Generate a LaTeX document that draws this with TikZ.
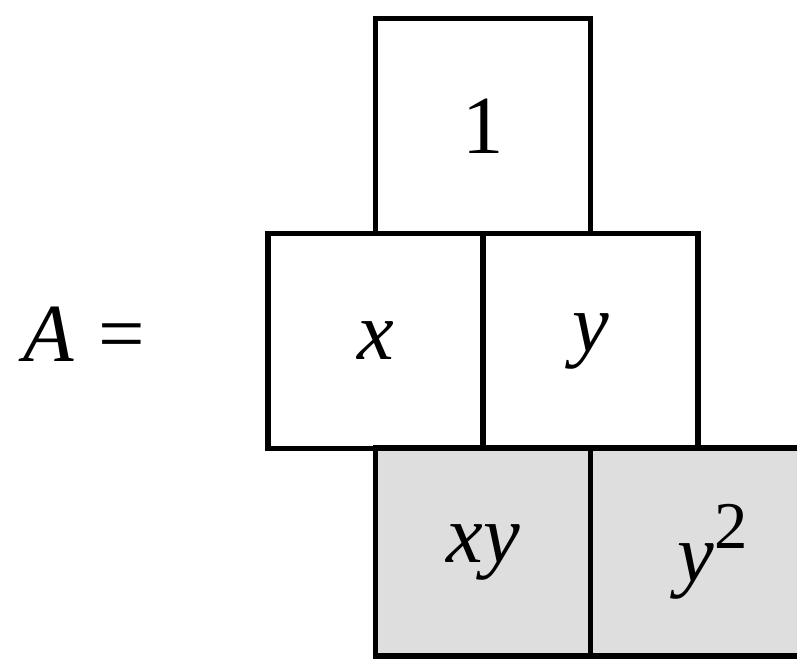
\documentclass[tikz,border=0pt]{standalone}
\usepackage{fontspec}
\setmainfont{Liberation Serif}
\usetikzlibrary{positioning}

\begin{document}
\begin{tikzpicture}[
    cell/.style={rectangle, draw=black, line width=3pt, minimum width=4.3cm, minimum height=4.3cm, inner sep=0pt, font=\fontsize{47}{50}\selectfont},
    shaded/.style={cell, fill=black!13, minimum height=4.16cm},
    lbl/.style={inner sep=0pt, font=\fontsize{47}{50}\selectfont}
]

% Page frame
\useasboundingbox (0,0) rectangle (15.94,13.2);
\clip (0,0) rectangle (15.94,13.2);

% Top row
\node[cell] at (9.66,10.68) (one) {1};

% Middle row
\node[cell] at (7.51,6.38) (xx) {\itshape x};
\node[cell] at (11.81,6.38) (yy) {\itshape y};

% Bottom row (shaded), the right cell runs off the page
\node[shaded] at (9.66,2.16) (xy) {\itshape xy};
\node[shaded, minimum width=4.9cm] at (14.26,2.16) (ysq) {\raisebox{0.12cm}{\itshape y\raisebox{0.4em}{\upshape\fontsize{38}{38}\selectfont 2}}};

% Name of the set
\node[lbl, anchor=base west] at (0.46,5.96) (name) {{\itshape A}\hspace{0.3em}=};

\end{tikzpicture}
\end{document}
